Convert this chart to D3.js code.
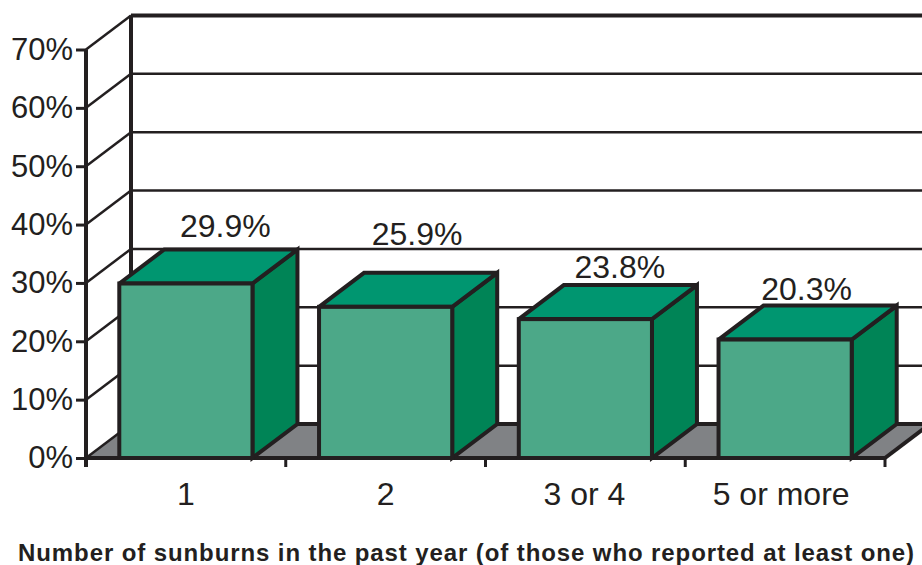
<!DOCTYPE html>
<style>
body { margin: 0; background: #fff; }
text { font-family: "Liberation Sans", sans-serif; fill: #231f20; }
.axis path { display: none; }
.axis line { stroke: #231f20; stroke-width: 3; }
.grid { stroke: #231f20; stroke-width: 2.5; fill: none; }
.edge { stroke: #231f20; stroke-width: 4; stroke-linejoin: miter; stroke-miterlimit: 3; }
</style>
<svg width="922" height="565"></svg>
<script src="https://d3js.org/d3.v7.min.js"></script>
<script>

var categories = ["1", "2", "3 or 4", "5 or more"];
var values = [29.9, 25.9, 23.8, 20.3];
var yTicks = [0, 10, 20, 30, 40, 50, 60, 70];
var xTitle = "Number of sunburns in the past year (of those who reported at least one)";

var svg = d3.select("svg"),
    left = 86, right = 885, base = 458, top70 = 49.5,
    dx = 45, dy = -34;   // offset of the back wall

// hand placed in the original, not centred on the bars
var labelShift = [[17, -13], [9, -28], [12, -7], [-1, -6]];
var xLabelShift = [0, 0, -1, -4];

var x = d3.scaleBand().domain(categories).range([left, right])
    .paddingInner(1 / 3).paddingOuter(1 / 6);
var y = d3.scaleLinear().domain([0, 70]).range([base, top70]);
var edges = d3.range(categories.length + 1).map(function(i) { return left + i * x.step(); });

// floor
svg.append("path")
    .attr("d", d3.line()([[left, base], [left + dx, base + dy], [right + dx, base + dy], [right, base]]) + "Z")
    .attr("fill", "#808285");

// back wall gridlines and the slanted lines on the side wall
yTicks.forEach(function(t) {
  svg.append("line").attr("class", "grid")
      .attr("x1", left).attr("y1", y(t))
      .attr("x2", left + dx).attr("y2", y(t) + dy);
  svg.append("line").attr("class", "grid")
      .attr("x1", left + dx).attr("y1", y(t) + dy)
      .attr("x2", right + dx).attr("y2", y(t) + dy);
});
svg.append("line").attr("class", "edge")
    .attr("x1", left + dx).attr("y1", y(70) + dy)
    .attr("x2", left + dx).attr("y2", y(0) + dy);
svg.append("line").attr("class", "edge")
    .attr("x1", left + dx).attr("y1", y(70) + dy)
    .attr("x2", right + dx).attr("y2", y(70) + dy);
svg.append("line").attr("class", "edge")
    .attr("x1", left + dx).attr("y1", y(0) + dy)
    .attr("x2", right + dx).attr("y2", y(0) + dy);
svg.append("line").attr("class", "edge")
    .attr("x1", right).attr("y1", base)
    .attr("x2", right + dx).attr("y2", base + dy)
    .attr("stroke-width", 2.5);

// axes
svg.append("g")
    .attr("class", "axis")
    .attr("transform", "translate(" + left + ",0)")
    .call(d3.axisLeft(y).tickValues(yTicks).tickSize(10).tickPadding(3)
        .tickFormat(function(d) { return d + "%"; }))
    .selectAll("text")
    .attr("font-size", 31)
    .attr("font-family", null);

svg.append("line").attr("class", "edge")
    .attr("x1", left).attr("y1", y(70))
    .attr("x2", left).attr("y2", base + 9);
svg.append("line").attr("class", "edge")
    .attr("x1", left).attr("y1", base)
    .attr("x2", right).attr("y2", base);

svg.selectAll(".xtick")
    .data(edges)
  .enter().append("line")
    .attr("class", "xtick")
    .attr("x1", function(d) { return d; })
    .attr("x2", function(d) { return d; })
    .attr("y1", base)
    .attr("y2", base + 9)
    .attr("stroke", "#231f20")
    .attr("stroke-width", 3);

var xAxis = svg.append("g")
    .attr("class", "axis")
    .attr("transform", "translate(0," + base + ")")
    .call(d3.axisBottom(x).tickSize(0).tickPadding(24));
xAxis.selectAll("text")
    .attr("font-size", 32)
    .attr("font-family", null)
    .attr("dx", function(d, i) { return xLabelShift[i]; });

// bars, painted left to right
var bars = svg.selectAll(".bar")
    .data(values)
  .enter().append("g")
    .attr("class", "bar");

function barLeft(i) { return x(categories[i]); }
function barRight(i) { return x(categories[i]) + x.bandwidth(); }

bars.append("path")
    .attr("class", "edge")
    .attr("fill", "#008456")
    .attr("d", function(d, i) {
      return d3.line()([[barRight(i), y(d)], [barRight(i) + dx, y(d) + dy],
          [barRight(i) + dx, base + dy], [barRight(i), base]]) + "Z";
    });

bars.append("path")
    .attr("class", "edge")
    .attr("fill", "#009670")
    .attr("d", function(d, i) {
      return d3.line()([[barLeft(i), y(d)], [barLeft(i) + dx, y(d) + dy],
          [barRight(i) + dx, y(d) + dy], [barRight(i), y(d)]]) + "Z";
    });

bars.append("rect")
    .attr("class", "edge")
    .attr("fill", "#4ca888")
    .attr("x", function(d, i) { return barLeft(i); })
    .attr("y", function(d) { return y(d); })
    .attr("width", x.bandwidth())
    .attr("height", function(d) { return base - y(d); });

bars.append("text")
    .attr("text-anchor", "middle")
    .attr("font-size", 32)
    .attr("x", function(d, i) { return barLeft(i) + (x.bandwidth() + dx) / 2 + labelShift[i][0]; })
    .attr("y", function(d, i) { return y(d) + dy + labelShift[i][1]; })
    .text(function(d) { return d.toFixed(1) + "%"; });

svg.append("text")
    .attr("x", 466.5)
    .attr("y", 561)
    .attr("text-anchor", "middle")
    .attr("font-size", 24)
    .attr("font-weight", "bold")
    .attr("letter-spacing", 0.9)
    .text(xTitle);

</script>
